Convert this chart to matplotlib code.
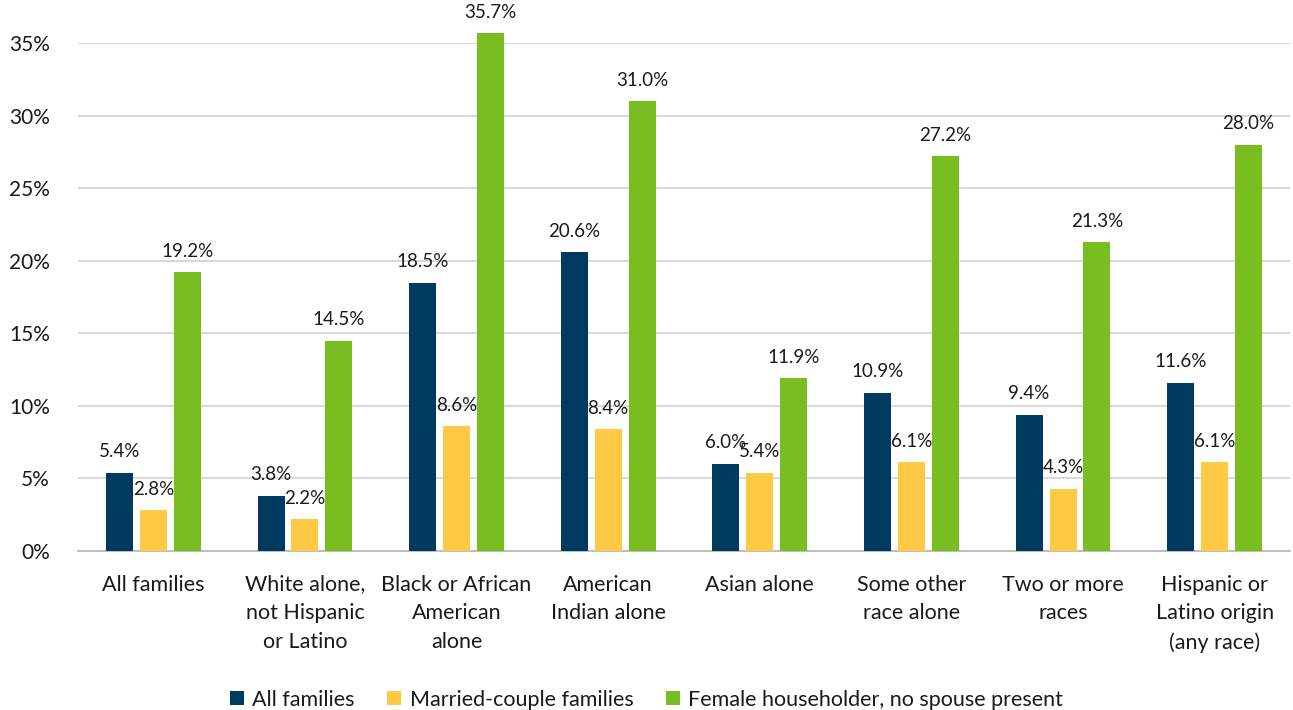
import matplotlib
matplotlib.use("Agg")
import matplotlib.pyplot as plt
import numpy as np

categories = ["All families", "White alone,\nnot Hispanic\nor Latino", "Black or African\nAmerican\nalone",
              "American\nIndian alone", "Asian alone", "Some other\nrace alone", "Two or more\nraces",
              "Hispanic or\nLatino origin\n(any race)"]
series_names = ["All families", "Married-couple families", "Female householder, no spouse present"]
all_families = [5.4, 3.8, 18.5, 20.6, 6.0, 10.9, 9.4, 11.6]
married = [2.8, 2.2, 8.6, 8.4, 5.4, 6.1, 4.3, 6.1]
female = [19.2, 14.5, 35.7, 31.0, 11.9, 27.2, 21.3, 28.0]
yticks = [0, 5, 10, 15, 20, 25, 30, 35]

colors = ["#003A5F", "#FFC845", "#78BE21"]

plt.rcParams['font.family'] = ['Lato', 'DejaVu Sans']

fig = plt.figure(figsize=(12.93, 7.10), dpi=100)
ax = fig.add_axes([0.060, 0.224, 0.938, 0.715])

x = np.arange(len(categories))
step = 0.224
w = 0.178
for i, (vals, c, name) in enumerate(zip([all_families, married, female], colors, series_names)):
    pos = x + (i - 1) * step
    ax.bar(pos, vals, width=w, color=c, label=name, zorder=3, clip_on=False)
    for xp, v in zip(pos, vals):
        ax.annotate(f"{v:.1f}%", (xp, v), xytext=(0, 9), textcoords="offset points",
                    ha="center", va="bottom", fontsize=13.5, color="#1a1a1a", annotation_clip=False)

ax.set_xlim(-0.5, len(categories) - 0.5)
ax.set_ylim(0, 35)
ax.set_yticks(yticks)
ax.set_yticklabels([f"{t}%" for t in yticks], fontsize=15, color="#1a1a1a")
ax.set_xticks(x)
ax.set_xticklabels(categories, fontsize=15.5, color="#1a1a1a", linespacing=1.55)
ax.tick_params(axis='both', length=0)
ax.tick_params(axis='x', pad=17)
ax.tick_params(axis='y', pad=20)
ax.grid(axis='y', color="#D9D9D9", linewidth=1.5, zorder=0)
for s in ["top", "right", "left"]:
    ax.spines[s].set_visible(False)
ax.spines["bottom"].set_color("#BFBFBF")
ax.spines["bottom"].set_linewidth(1.5)

leg = fig.legend(loc="lower center", bbox_to_anchor=(0.5, -0.027), ncol=3, frameon=False,
                 fontsize=15.5, handlelength=0.65, handleheight=0.65, handletextpad=0.4, columnspacing=1.5)
for t in leg.get_texts():
    t.set_color("#1a1a1a")

fig.savefig("out.png", dpi=100)
